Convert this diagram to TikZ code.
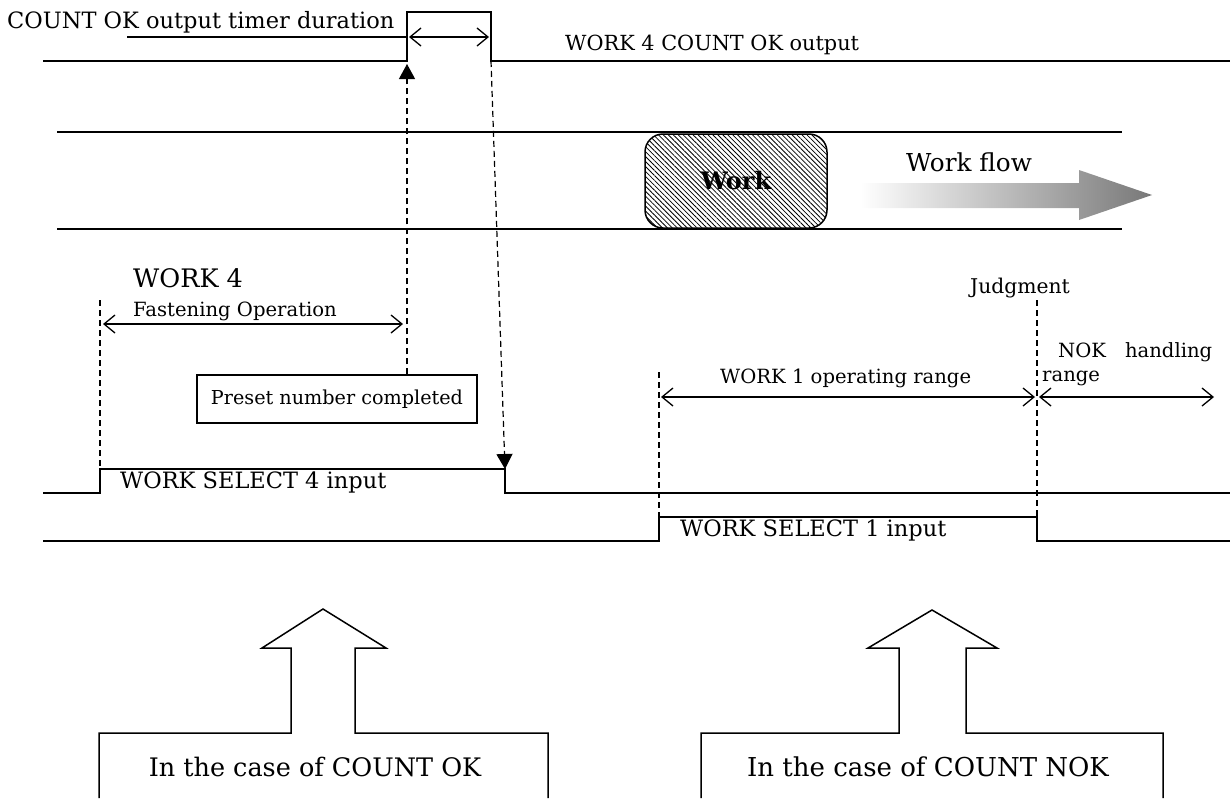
\documentclass[tikz,border=0pt]{standalone}
\usepackage{fontspec}
\setmainfont{DejaVu Serif}
\usepackage{xcolor}
\usetikzlibrary{calc,arrows.meta,patterns.meta,positioning}
\definecolor{ink}{HTML}{000000}
\definecolor{flowgray}{HTML}{787878}
\tikzset{
  sig/.style={draw=ink, line width=2.4pt, line join=miter},
  lane/.style={draw=ink, line width=2pt},
  guide/.style={draw=ink, dash pattern=on 6pt off 4pt, line width=1.2pt},
  span/.style={draw=ink, line width=1.3pt,
    {Straight Barb[length=11pt,width=18pt,line width=1.3pt]}-{Straight Barb[length=11pt,width=18pt,line width=1.3pt]}},
  tiparrow/.style={-{Triangle[length=15pt,width=16pt]}},
  lab/.style={font=\fontsize{22.5}{26}\selectfont, inner sep=0pt, anchor=west},
  labl/.style={font=\fontsize{25.5}{29}\selectfont, inner sep=0pt, anchor=west},
  labs/.style={font=\fontsize{19.6}{23}\selectfont, inner sep=0pt, anchor=west},
  box/.style={draw=ink, line width=1.5pt},
}

\begin{document}
\begin{tikzpicture}[x=1pt,y=-1pt]
  \useasboundingbox (0,0) rectangle (1230,798);

  % output signal
  \coordinate (OKup) at (407,61);
  \coordinate (OKdn) at (491,61);
  \draw[sig] (43,61) -- (OKup) -- (407,12) -- (491,12) -- (OKdn) -- (1230,61);
  \node[lab] (timer) at (7,22) {COUNT OK output timer duration};
  \draw[draw=ink, line width=1.3pt] (127,37) -- (OKup |- 0,37);
  \draw[span] (409,37) -- (489,37);
  \node[lab, font=\fontsize{20.8}{24}\selectfont] (okout) at (565,45) {WORK 4 COUNT OK output};

  % work lanes
  \draw[lane] (57,132) -- (1122,132);
  \draw[lane] (57,229) -- (1122,229);
  \node[box, rounded corners=18pt, minimum width=182pt, minimum height=94pt,
    pattern={Lines[angle=-45,distance=3.5pt,line width=0.8pt]}] (work) at (736,181) {};
  \node[font=\fontsize{24}{27}\selectfont\bfseries] at (work) {Work};
  \shade[left color=white, right color=flowgray]
    (860,183) -- (1079,183) -- (1079,170) -- (1152,195) -- (1079,220) -- (1079,208) -- (860,208) -- cycle;
  \node[labl, font=\fontsize{24.7}{28}\selectfont] (flow) at (906,162) {Work flow};

  % WORK 4
  \node[labl] (w4) at (133,278) {WORK 4};
  \node[labs] (fasten) at (133,311) {Fastening Operation};
  \coordinate (s4up) at (100,469);
  \coordinate (s4dn) at (505,469);
  \draw[span] (103,324) -- (403,324);
  \node[box, minimum width=280pt, minimum height=48pt, font=\fontsize{19.2}{22}\selectfont] (preset) at (337,399) {Preset number completed};
  \draw[guide] (100,300) -- (s4up);
  \draw[guide, tiparrow] (preset.north -| OKup) -- ($(OKup)+(0,3)$);
  \draw[guide, tiparrow] (OKdn) -- (s4dn);

  % WORK 1
  \coordinate (s1up) at (659,517);
  \coordinate (s1dn) at (1037,517);
  \node[labs, anchor=center, font=\fontsize{20.3}{23}\selectfont] (judge) at (1020,288) {Judgment};
  \draw[guide] (659,372) -- (s1up);
  \draw[guide] (1037,300) -- (s1dn);
  \draw[span] (661,397) -- (1035,397);
  \draw[span] (1039,397) -- (1214,397);
  \node[labs] (w1range) at (720,378) {WORK 1 operating range};
  \node[labs] (nok) at (1058,352) {\makebox[154pt][s]{NOK handling}};
  \node[labs] (nokr) at (1042,378) {range};

  % select inputs
  \draw[sig] (43,493) -- (100,493) -- (s4up) -- (s4dn) -- (505,493) -- (1230,493);
  \node[lab] (sel4) at (120,482) {WORK SELECT 4 input};
  \draw[sig] (43,541) -- (659,541) -- (s1up) -- (s1dn) -- (1037,541) -- (1230,541);
  \node[lab] (sel1) at (680,530) {WORK SELECT 1 input};

  % case arrows
  \draw[box, line join=miter] (99,798) -- (99,733) -- (291,733) -- (291,648) -- (262,648) -- (323,609)
    -- (386,648) -- (355,648) -- (355,733) -- (548,733) -- (548,798);
  \node[labl, anchor=center] (caseok) at (315,767) {In the case of COUNT OK};
  \draw[box, line join=miter] (701,798) -- (701,733) -- (899,733) -- (899,648) -- (868,648) -- (932,610)
    -- (997,648) -- (966,648) -- (966,733) -- (1163,733) -- (1163,798);
  \node[labl, anchor=center, font=\fontsize{26}{29}\selectfont] (casenok) at (928,767) {In the case of COUNT NOK};
\end{tikzpicture}
\end{document}
